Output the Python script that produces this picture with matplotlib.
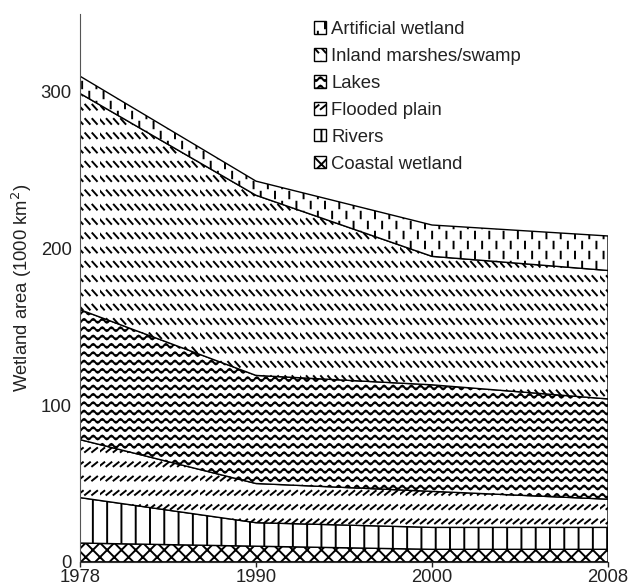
import warnings
warnings.filterwarnings("ignore")
import numpy as np
import matplotlib
matplotlib.use("Agg")
import matplotlib.pyplot as plt
import matplotlib.hatch as mhatch
from matplotlib.path import Path
from matplotlib.patches import Patch

# ---------------- data ----------------
years = ["1978", "1990", "2000", "2008"]
coastal = [12, 10, 8, 8]
rivers = [29, 15, 14, 14]
flooded = [37, 25, 23, 18]
lakes = [83, 69, 68, 64]
inland = [138, 115, 82, 82]
artificial = [11, 9, 20, 22]
series_names = ["Coastal wetland", "Rivers", "Flooded plain", "Lakes",
                "Inland marshes/swamp", "Artificial wetland"]
yticks = [0, 100, 200, 300]

# ---------------- custom hatches ----------------
class _Dashes(mhatch.HatchPatternBase):
    key = None
    rows, cols, dx, dy, stagger = 7, 14, 0.04, 0.05, 0.0

    def __init__(self, hatch, density):
        on = hatch is not None and self.key in hatch
        self.num_vertices = 2 * self.rows * self.cols if on else 0

    def set_vertices_and_codes(self, vertices, codes):
        k = 0
        for r in range(self.rows):
            y = (r + 0.5) / self.rows
            off = self.stagger * (r % 2)
            for c in range(self.cols):
                x = (c + 0.25 + off) / self.cols
                vertices[k] = (x - self.dx / 2, y - self.dy / 2)
                vertices[k + 1] = (x + self.dx / 2, y + self.dy / 2)
                codes[k] = Path.MOVETO
                codes[k + 1] = Path.LINETO
                k += 2


class BackDash(_Dashes):
    key = "d"
    rows, cols, dx, dy, stagger = 7, 14, -0.045, 0.05, 0.0


class FwdDash(_Dashes):
    key = "f"
    rows, cols, dx, dy, stagger = 7, 14, 0.05, 0.04, 0.0


class VertDash(_Dashes):
    key = "v"
    rows, cols, dx, dy, stagger = 10, 7, 0.0, 0.065, 0.5


class VertLines(mhatch.HatchPatternBase):
    n = 7

    def __init__(self, hatch, density):
        on = hatch is not None and "r" in hatch
        self.num_vertices = 2 * self.n if on else 0

    def set_vertices_and_codes(self, vertices, codes):
        for i in range(self.n):
            x = (i + 0.5) / self.n
            vertices[2 * i] = (x, 0.0)
            vertices[2 * i + 1] = (x, 1.0)
            codes[2 * i] = Path.MOVETO
            codes[2 * i + 1] = Path.LINETO


class CrossDense(mhatch.HatchPatternBase):
    n = 7

    def __init__(self, hatch, density):
        on = hatch is not None and "c" in hatch
        self.num_vertices = 4 * (2 * self.n + 1) if on else 0

    def set_vertices_and_codes(self, vertices, codes):
        k = 0
        for i in range(-self.n, self.n + 1):
            o = i / self.n
            vertices[k] = (o, 0.0)
            vertices[k + 1] = (o + 1.0, 1.0)
            vertices[k + 2] = (o, 1.0)
            vertices[k + 3] = (o + 1.0, 0.0)
            codes[k] = Path.MOVETO
            codes[k + 1] = Path.LINETO
            codes[k + 2] = Path.MOVETO
            codes[k + 3] = Path.LINETO
            k += 4


class Waves(mhatch.HatchPatternBase):
    rows, periods, amp = 12, 11, 0.019

    def __init__(self, hatch, density):
        on = hatch is not None and "w" in hatch
        self.npts = self.periods * 8 + 1
        self.num_vertices = self.rows * self.npts if on else 0

    def set_vertices_and_codes(self, vertices, codes):
        x = np.linspace(0, 1, self.npts)
        for r in range(self.rows):
            y = (r + 0.5) / self.rows + self.amp * np.sin(2 * np.pi * self.periods * x)
            s = slice(r * self.npts, (r + 1) * self.npts)
            vertices[s, 0] = x
            vertices[s, 1] = y
            codes[s] = Path.LINETO
            codes[r * self.npts] = Path.MOVETO


mhatch._hatch_types.extend([BackDash, FwdDash, VertDash, VertLines, CrossDense, Waves])

# ---------------- figure ----------------
plt.rcParams["font.family"] = ["Liberation Sans", "DejaVu Sans"]
plt.rcParams["hatch.linewidth"] = 1.4
plt.rcParams["hatch.color"] = "black"

fig = plt.figure(figsize=(6.36, 5.88), dpi=100)
ax = fig.add_axes([0.1258, 0.0445, 0.956 - 0.1258, 0.977 - 0.0445])

x = np.arange(len(years))
layers = [coastal, rivers, flooded, lakes, inland, artificial]
hatches = ["c", "r", "f", "w", "d", "v"]
base = np.zeros(len(years))
for vals, h, name in zip(layers, hatches, series_names):
    top = base + np.array(vals, dtype=float)
    ax.fill_between(x, base, top, facecolor="white", edgecolor="black",
                    hatch=h, linewidth=1.0, label=name)
    base = top

ax.set_xlim(0, len(years) - 1)
ax.set_ylim(0, 350)
ax.set_xticks(x)
ax.set_xticklabels(years)
ax.set_yticks(yticks)
ax.tick_params(axis="x", length=3.5, width=1, labelsize=13.3, pad=2.0, colors="#222222")
ax.tick_params(axis="y", length=0, labelsize=13.3, pad=6, colors="#222222")
for lbl in ax.get_yticklabels():
    lbl.set_verticalalignment("center_baseline")
for s in ["top", "right"]:
    ax.spines[s].set_visible(False)
ax.spines["left"].set_color("#555555")
ax.spines["bottom"].set_color("#333333")
ax.set_ylabel("Wetland area (1000 km$^2$)", fontsize=13.3, color="#222222", labelpad=5)

handles = [Patch(facecolor="white", edgecolor="black", hatch=h, linewidth=1.0)
           for h in hatches]
order = list(range(len(series_names)))[::-1]
leg = fig.legend([handles[i] for i in order], [series_names[i] for i in order],
                 loc="upper left", bbox_to_anchor=(0.482, 0.977),
                 frameon=False, fontsize=13.3, handlelength=0.65, handleheight=0.65,
                 handletextpad=0.3, labelspacing=0.54, borderaxespad=0)
for t in leg.get_texts():
    t.set_color("#222222")

fig.savefig("out.png", dpi=100)
